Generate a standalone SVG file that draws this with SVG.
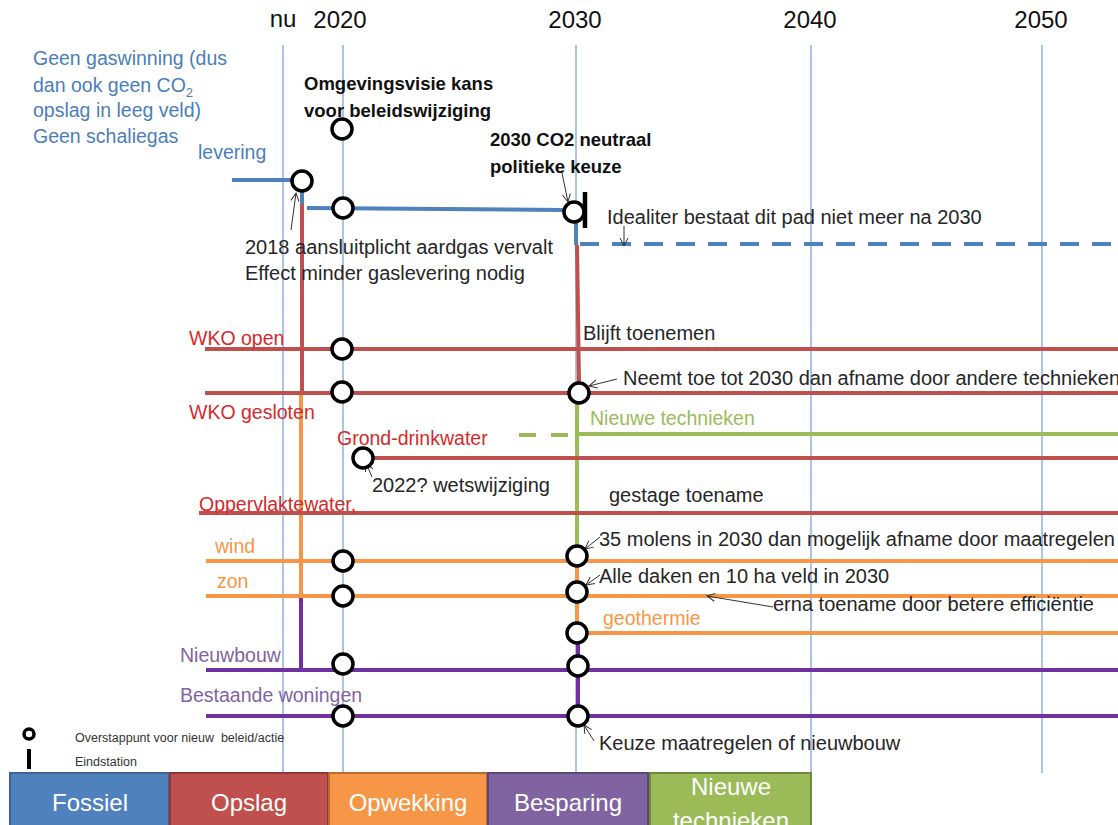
<svg xmlns="http://www.w3.org/2000/svg" width="1118" height="825" viewBox="0 0 1118 825">
<defs>
<marker id="arr" markerWidth="10" markerHeight="10" refX="9" refY="5" orient="auto" markerUnits="userSpaceOnUse"><path d="M1,1 L9,5 L1,9" fill="none" stroke="#333" stroke-width="1"/></marker>
</defs>
<style>
text{font-family:"Liberation Sans",Arial,sans-serif;}
.grid{stroke:#8db0dc;stroke-width:1.5}
.ln{fill:none;stroke-width:4}
.b{stroke:#4f81bd}.r{stroke:#c0504d}.o{stroke:#f79646}.g{stroke:#9bbb59}.p{stroke:#7030a0}
.node{fill:#fff;stroke:#000;stroke-width:3.5}
.t{font-size:20px;fill:#262626}
.tb{font-size:18.5px;font-weight:bold;fill:#111}
.yr{font-size:24px;fill:#111;text-anchor:middle}
.lb{font-size:19.5px}
.cb{fill:#4a7ebb}.cr{fill:#d42a2a}.co{fill:#f79646}.cg{fill:#9bbb59}.cp{fill:#8064a2}
.ann{stroke:#333;stroke-width:1;fill:none;marker-end:url(#arr)}
.box text{font-size:24px;fill:#fff;text-anchor:middle}
.lg{font-size:12.5px;fill:#333}
</style>
<rect width="1118" height="825" fill="#fff"/>

<g id="grid">
<line class="grid" x1="283" y1="45" x2="283" y2="773"/>
<line class="grid" x1="343" y1="45" x2="343" y2="773"/>
<line class="grid" x1="576" y1="45" x2="576" y2="773"/>
<line class="grid" x1="811" y1="45" x2="811" y2="773"/>
<line class="grid" x1="1042" y1="45" x2="1042" y2="773"/>
<text class="yr" x="283" y="27">nu</text>
<text class="yr" x="340" y="28">2020</text>
<text class="yr" x="575" y="28">2030</text>
<text class="yr" x="810" y="28">2040</text>
<text class="yr" x="1041" y="28">2050</text>
</g>

<g id="connectors">
<path class="ln b" d="M232,180 H292"/>
<path class="ln b" d="M302,191 V204"/>
<path class="ln b" d="M307,208 L563,210"/>
<path class="ln b" d="M576,222 V245"/>
<path class="ln b" d="M580,244 H1118" stroke-width="4.5" stroke-dasharray="19 13"/>
<path class="ln r" d="M302,204 V393"/>
<path class="ln o" d="M301,395 V596"/>
<path class="ln p" d="M301,596 V670"/>
<path class="ln r" d="M577,245 L579,383"/>
<path class="ln r" d="M205,349 H1118"/>
<path class="ln r" d="M205,393 H1118"/>
<path class="ln g" d="M577,403 V547"/>
<path class="ln g" d="M519,435 H572" stroke-dasharray="17 15"/>
<path class="ln g" d="M579,434 H1118"/>
<path class="ln r" d="M373,458 H1118"/>
<path class="ln r" d="M199,513 H1118"/>
<path class="ln o" d="M206,561 H1118"/>
<path class="ln o" d="M206,596 H1118"/>
<path class="ln o" d="M577,567 V623"/>
<path class="ln o" d="M587,633 H1118"/>
<path class="ln p" d="M578,643 V706"/>
<path class="ln p" d="M206,670 H1118"/>
<path class="ln p" d="M206,716 H1118"/>
</g>

<g id="annotations">
<path class="ann" d="M291,230 L296,193"/>
<path class="ann" d="M562,173 L568,202"/>
<path class="ann" d="M624,226 V246"/>
<path class="ann" d="M372,477 L366,463"/>
<path class="ann" d="M617,379 L589,386"/>
<path class="ann" d="M600,537 L585,549"/>
<path class="ann" d="M600,575 L586,585"/>
<path class="ann" d="M773,607 L707,596"/>
<path class="ann" d="M594,741 L584,725"/>
</g>

<g id="n-levering"><circle class="node" cx="302" cy="181" r="10"/></g>
<g id="n-omgevingsvisie"><circle class="node" cx="342" cy="129" r="10"/></g>
<g id="n-gas-2020"><circle class="node" cx="343" cy="208" r="10"/></g>
<g id="n-gas-2030"><circle class="node" cx="574" cy="212" r="10"/><line x1="585" y1="192" x2="585" y2="228" stroke="#000" stroke-width="4.5"/></g>
<g id="n-wkoopen-2020"><circle class="node" cx="342" cy="349" r="10"/></g>
<g id="n-wkogesl-2020"><circle class="node" cx="342" cy="392" r="10"/></g>
<g id="n-wkogesl-2030"><circle class="node" cx="579" cy="393" r="10"/></g>
<g id="n-grond"><circle class="node" cx="363" cy="458" r="10"/></g>
<g id="n-wind-2020"><circle class="node" cx="343" cy="561" r="10"/></g>
<g id="n-zon-2020"><circle class="node" cx="343" cy="596" r="10"/></g>
<g id="n-nieuwbouw-2020"><circle class="node" cx="343" cy="664" r="10"/></g>
<g id="n-bestaand-2020"><circle class="node" cx="343" cy="716" r="10"/></g>
<g id="n-wind-2030"><circle class="node" cx="577" cy="556" r="10"/></g>
<g id="n-zon-2030"><circle class="node" cx="577" cy="592" r="10"/></g>
<g id="n-geo-2030"><circle class="node" cx="577" cy="633" r="10"/></g>
<g id="n-nieuwbouw-2030"><circle class="node" cx="578" cy="666" r="10"/></g>
<g id="n-bestaand-2030"><circle class="node" cx="578" cy="716" r="10"/></g>

<g id="labels">
<text class="lb cb" x="33" y="65">Geen gaswinning (dus</text>
<text class="lb cb" x="33" y="92">dan ook geen CO<tspan font-size="13px" dy="5">2</tspan></text>
<text class="lb cb" x="33" y="117">opslag in leeg veld)</text>
<text class="lb cb" x="33" y="143">Geen schaliegas</text>
<text class="lb cb" x="198" y="159">levering</text>
<text class="tb" x="304" y="90">Omgevingsvisie kans</text>
<text class="tb" x="304" y="117">voor beleidswijziging</text>
<text class="tb" x="490" y="146">2030 CO2 neutraal</text>
<text class="tb" x="490" y="173">politieke keuze</text>
<text class="t" x="607" y="224">Idealiter bestaat dit pad niet meer na 2030</text>
<text class="t" x="245" y="254">2018 aansluitplicht aardgas vervalt</text>
<text class="t" x="245" y="280">Effect minder gaslevering nodig</text>
<text class="lb cr" x="189" y="345">WKO open</text>
<text class="lb cr" x="189" y="419">WKO gesloten</text>
<text class="lb cr" x="337" y="445" font-size="20px">Grond-drinkwater</text>
<text class="lb cr" x="199" y="511">Oppervlaktewater,</text>
<text class="t" x="372" y="492">2022? wetswijziging</text>
<text class="t" x="583" y="340">Blijft toenemen</text>
<text class="t" x="623" y="385">Neemt toe tot 2030 dan afname door andere technieken</text>
<text class="lb cg" x="590" y="425">Nieuwe technieken</text>
<text class="t" x="609" y="502">gestage toename</text>
<text class="lb co" x="215" y="553">wind</text>
<text class="lb co" x="217" y="588">zon</text>
<text class="t" x="599" y="546">35 molens in 2030 dan mogelijk afname door maatregelen</text>
<text class="t" x="599" y="583">Alle daken en 10 ha veld in 2030</text>
<text class="t" x="773" y="611">erna toename door betere efficiëntie</text>
<text class="lb co" x="603" y="625">geothermie</text>
<text class="lb cp" x="180" y="662">Nieuwbouw</text>
<text class="lb cp" x="180" y="702">Bestaande woningen</text>
<text class="t" x="599" y="750">Keuze maatregelen of nieuwbouw</text>
</g>

<g id="legend">
<circle cx="29" cy="734" r="5" fill="#fff" stroke="#000" stroke-width="3.5"/>
<line x1="29" y1="749" x2="29" y2="769" stroke="#000" stroke-width="4"/>
<text class="lg" x="75" y="742" xml:space="preserve">Overstappunt voor nieuw  beleid/actie</text>
<text class="lg" x="75" y="766">Eindstation</text>
</g>

<g id="box-fossiel" class="box"><rect x="10" y="773" width="159" height="60" fill="#4f81bd" stroke="#3a6496" stroke-width="2"/><text x="90" y="811">Fossiel</text></g>
<g id="box-opslag" class="box"><rect x="170" y="773" width="158" height="60" fill="#c0504d" stroke="#8c3836" stroke-width="2"/><text x="249" y="811">Opslag</text></g>
<g id="box-opwekking" class="box"><rect x="329" y="773" width="158" height="60" fill="#f79646" stroke="#b66d31" stroke-width="2"/><text x="408" y="811">Opwekking</text></g>
<g id="box-besparing" class="box"><rect x="488" y="773" width="160" height="60" fill="#8064a2" stroke="#5c4776" stroke-width="2"/><text x="568" y="811">Besparing</text></g>
<g id="box-nieuwe" class="box"><rect x="650" y="773" width="161" height="60" fill="#9bbb59" stroke="#71893f" stroke-width="2"/><text x="731" y="795">Nieuwe</text><text x="731" y="829">technieken</text></g>
</svg>
